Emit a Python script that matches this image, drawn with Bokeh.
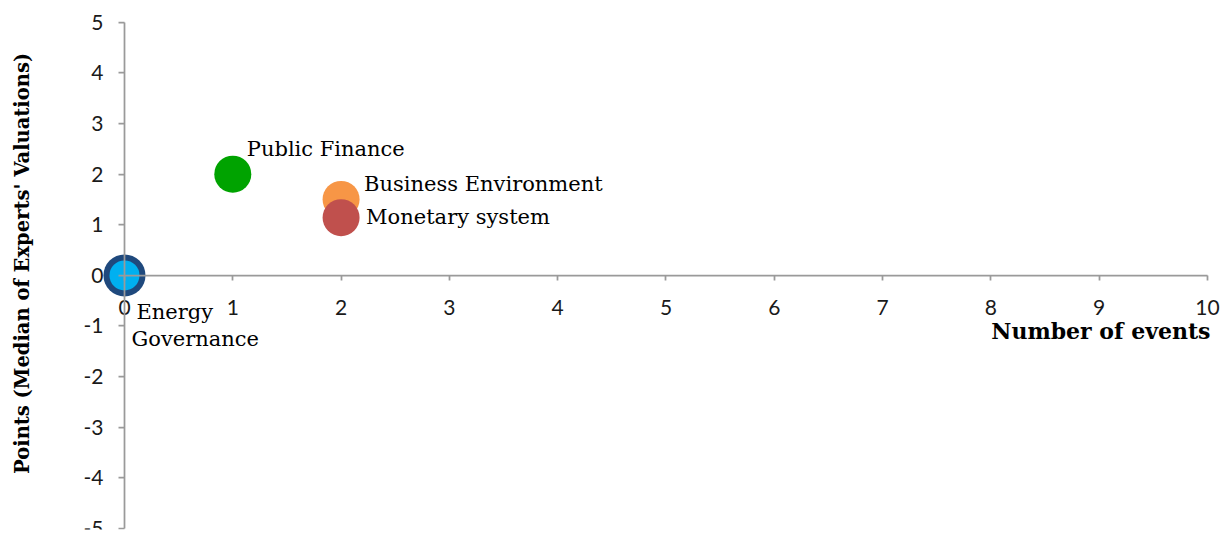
import math
from bokeh.plotting import figure
from bokeh.models import Range1d, FixedTicker
from bokeh.core.properties import value
from bokeh.embed import file_html
from bokeh.resources import INLINE

# ---- data ----
series_names = ["Energy", "Governance", "Public Finance", "Business Environment", "Monetary system"]
events = [0, 0, 1, 2, 2]
points = [0, 0, 2, 1.5, 1.14]
x_ticks = [0, 1, 2, 3, 4, 5, 6, 7, 8, 9, 10]
x_tick_labels = ["0", "1", "2", "3", "4", "5", "6", "7", "8", "9", "10"]
y_ticks = [-5, -4, -3, -2, -1, 0, 1, 2, 3, 4, 5]
y_tick_labels = ["-5", "-4", "-3", "-2", "-1", "0", "1", "2", "3", "4", "5"]
x_title = "Number of events"
y_title = "Points (Median of Experts' Valuations)"

# ---- styles ----
colors = ["#1F497D", "#00B0F0", "#00A300", "#F79646", "#C0504D"]
sizes = [42, 30, 37, 37, 37]
label_dx = [12, 7, 14, 23, 25]
label_dy = [37, 64, -25, -15, -1]
AXIS_COLOR = "#9a9a9a"
SERIF = "DejaVu Serif"
SANS = "Lato"

p = figure(width=1223, height=535,
           x_range=Range1d(-1.071, 10.148), y_range=Range1d(-5.02, 5.43),
           output_backend="svg", toolbar_location=None,
           min_border_left=8, min_border_right=0, min_border_top=0, min_border_bottom=6)
p.outline_line_color = None
p.xgrid.visible = False
p.ygrid.visible = False
p.background_fill_color = "white"
p.border_fill_color = "white"


def style_axis(ax, ticks, bounds, tick_out):
    ax.fixed_location = 0
    ax.bounds = bounds
    ax.ticker = FixedTicker(ticks=ticks)
    ax.major_label_overrides = {t: "" for t in ticks}
    ax.major_label_text_font_size = "1px"
    ax.major_label_standoff = 0
    ax.major_tick_out = tick_out
    ax.major_tick_in = 0
    ax.minor_tick_out = 0
    ax.minor_tick_in = 0
    ax.axis_line_color = AXIS_COLOR
    ax.axis_line_width = 1.75
    ax.major_tick_line_color = AXIS_COLOR
    ax.major_tick_line_width = 1.75


style_axis(p.xaxis[0], x_ticks, (0, 10), 5)
style_axis(p.yaxis[0], y_ticks, (-5, 5), 6)

# tick labels
p.text(x=x_ticks, y=[0] * len(x_ticks), text=x_tick_labels, y_offset=32,
       text_align="center", text_baseline="middle",
       text_font=value(SANS), text_font_size="21px", text_color="#1a1a1a")
p.text(x=[0] * len(y_ticks), y=y_ticks, text=y_tick_labels, x_offset=-21,
       text_align="right", text_baseline="middle",
       text_font=value(SANS), text_font_size="21px", text_color="#1a1a1a")

# axis titles
p.text(x=[10], y=[0], text=[x_title], x_offset=3, y_offset=56,
       text_align="right", text_baseline="middle",
       text_font=value(SERIF), text_font_style="bold", text_font_size="22px",
       text_color="#000000")
p.text(x=[0], y=[0], text=[y_title], x_offset=-102, y_offset=-12, angle=math.pi / 2,
       text_align="center", text_baseline="middle",
       text_font=value(SERIF), text_font_style="bold", text_font_size="19.5px",
       text_color="#000000")

# points
for i in range(len(series_names)):
    p.scatter(x=[events[i]], y=[points[i]], size=sizes[i], marker="circle",
              fill_color=colors[i], line_color=None)

# data labels
for i in range(len(series_names)):
    p.text(x=[events[i]], y=[points[i]], text=[series_names[i]],
           x_offset=label_dx[i], y_offset=label_dy[i],
           text_align="left", text_baseline="middle",
           text_font=value(SERIF), text_font_size="21px", text_color="#000000")

open("out.html", "w").write(file_html(p, INLINE))
